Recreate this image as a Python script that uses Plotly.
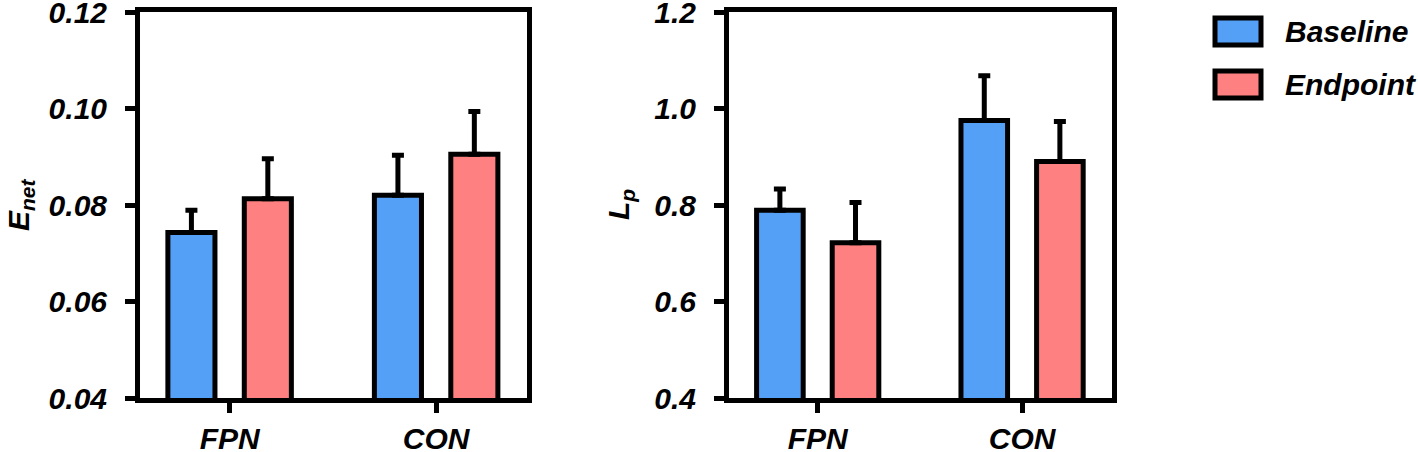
import plotly.graph_objects as go

# data
groups = ["FPN", "CON"]
series = ["Baseline", "Endpoint"]
colors = ["#55A0F7", "#FF8080"]

enet_base = [0.0743, 0.0820]
enet_base_err = [0.0046, 0.0083]
enet_end = [0.0813, 0.0905]
enet_end_err = [0.0083, 0.0089]

lp_base = [0.789, 0.975]
lp_base_err = [0.044, 0.093]
lp_end = [0.722, 0.890]
lp_end_err = [0.083, 0.083]

enet_ticks = [0.04, 0.06, 0.08, 0.10, 0.12]
lp_ticks = [0.4, 0.6, 0.8, 1.0, 1.2]

FONT = "Liberation Sans, Arial, sans-serif"
W, H = 1418, 452
xpos = list(range(len(groups)))
bar_w = 0.228
offsets = [-0.299, 0.071]

fig = go.Figure()


def add_bars(vals, errs, name, color, off, xa, ya):
    fig.add_trace(go.Bar(
        x=xpos, y=vals, name=name, xaxis=xa, yaxis=ya,
        width=bar_w, offset=off, base=0,
        marker=dict(color=color, line=dict(color="black", width=5)),
        error_y=dict(type="data", array=errs, arrayminus=[0] * len(errs),
                     symmetric=False, color="black", thickness=5, width=6),
        showlegend=False,
    ))


add_bars(enet_base, enet_base_err, series[0], colors[0], offsets[0], "x", "y")
add_bars(enet_end, enet_end_err, series[1], colors[1], offsets[1], "x", "y")
add_bars(lp_base, lp_base_err, series[0], colors[0], offsets[0], "x2", "y2")
add_bars(lp_end, lp_end_err, series[1], colors[1], offsets[1], "x2", "y2")

tickfont = dict(family=FONT, size=30, color="black", weight="bold", style="italic")
xcommon = dict(tickvals=xpos, ticktext=groups, range=[-0.434, 1.44],
               showline=True, linewidth=5, linecolor="black", mirror=True,
               ticks="outside", ticklen=10, tickwidth=5, tickcolor="black",
               showgrid=False, zeroline=False, tickfont=tickfont, automargin=False,
               ticklabelstandoff=0, ticklabeloverflow="allow")
ycommon = dict(showline=True, linewidth=5, linecolor="black", mirror=True,
               ticks="outside", ticklen=10, tickwidth=5, tickcolor="black",
               showgrid=False, zeroline=False, tickfont=tickfont, automargin=False,
               ticklabelstandoff=12, ticklabeloverflow="allow",
               domain=[54 / H, 440 / H])

fig.update_layout(
    width=W, height=H,
    margin=dict(l=0, r=0, t=0, b=0),
    plot_bgcolor="white", paper_bgcolor="white",
    font=dict(family=FONT, color="black"),
    xaxis=dict(xcommon, domain=[140 / W, 527 / W], anchor="y"),
    yaxis=dict(ycommon, anchor="x", range=[enet_ticks[0], enet_ticks[-1]],
               tickvals=enet_ticks, tickformat=".2f"),
    xaxis2=dict(xcommon, domain=[729 / W, 1112 / W], anchor="y2"),
    yaxis2=dict(ycommon, anchor="x2", range=[lp_ticks[0], lp_ticks[-1]],
                tickvals=lp_ticks, tickformat=".1f"),
)

# axis titles
titlefont = dict(family=FONT, size=30, color="black", weight="bold", style="italic")
fig.add_annotation(text="E<sub>net</sub>", x=20 / W, y=(H - 205) / H, xref="paper", yref="paper",
                   textangle=-90, showarrow=False, font=titlefont, xanchor="center", yanchor="middle")
fig.add_annotation(text="L<sub>p</sub>", x=620 / W, y=(H - 205) / H, xref="paper", yref="paper",
                   textangle=-90, showarrow=False, font=titlefont, xanchor="center", yanchor="middle")

# legend drawn with big boxed swatches
for i, (name, col) in enumerate(zip(series, colors)):
    top = 18 + i * 53
    fig.add_shape(type="rect", xref="paper", yref="paper",
                  x0=1215 / W, x1=1261 / W, y0=(H - top - 27) / H, y1=(H - top) / H,
                  fillcolor=col, line=dict(color="black", width=5))
    fig.add_annotation(text=name, x=1283 / W, y=(H - top - 13.5) / H, xref="paper", yref="paper",
                       showarrow=False, xanchor="left", yanchor="middle", font=titlefont)

fig.write_html("out.html", config={"displayModeBar": False},
               post_script="document.body.style.margin='0';")
